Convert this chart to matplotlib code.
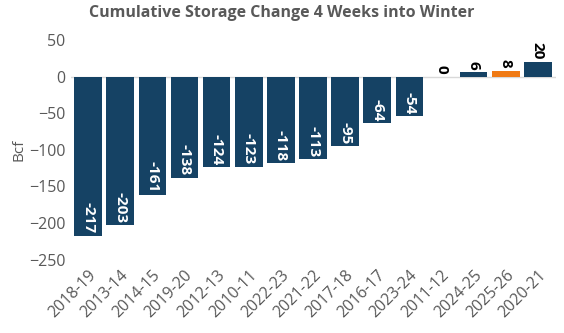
import matplotlib.pyplot as plt

seasons = ['2018-19', '2013-14', '2014-15', '2019-20', '2012-13', '2010-11', '2022-23',
           '2021-22', '2017-18', '2016-17', '2023-24', '2011-12', '2024-25', '2025-26', '2020-21']
values = [-217, -203, -161, -138, -124, -123, -118, -113, -95, -64, -54, 0, 6, 8, 20]
highlight = '2025-26'

navy = '#154264'
orange = '#F07A14'
gray = '#595959'

plt.rcParams['font.family'] = ['Open Sans', 'DejaVu Sans']

fig, ax = plt.subplots(figsize=(5.64, 3.33), dpi=100)
fig.subplots_adjust(left=0.125, right=0.985, top=0.88, bottom=0.22)

colors = [orange if s == highlight else navy for s in seasons]
x = range(len(seasons))
bars = ax.bar(x, values, width=0.86, color=colors, zorder=2)

for i, v in enumerate(values):
    if v < 0:
        ax.text(i, v + 3, str(v), rotation=-90, ha='center', va='bottom',
                color='white', fontsize=11, fontweight='bold')
    else:
        ax.text(i, v + 4, str(v), rotation=-90, ha='center', va='bottom',
                color='black', fontsize=11, fontweight='bold')

ax.axhline(0, color='#d9d9d9', linewidth=1, zorder=1)
ax.set_ylim(-250, 50)
ax.set_yticks(range(-250, 51, 50))
ax.set_xlim(-0.55, len(seasons) - 0.45)
ax.set_xticks(list(x))
ax.set_xticklabels(seasons, rotation=45, ha='right', rotation_mode='anchor')
ax.tick_params(axis='both', length=0, colors=gray, labelsize=11.5)
ax.tick_params(axis='x', pad=5)
for s in ax.spines.values():
    s.set_visible(False)
ax.set_ylabel('Bcf', color=gray, fontsize=11, labelpad=2)
fig.suptitle('Cumulative Storage Change 4 Weeks into Winter', x=0.5, y=0.985,
             fontsize=11.5, fontweight='bold', color=gray)

fig.savefig('out.png')
